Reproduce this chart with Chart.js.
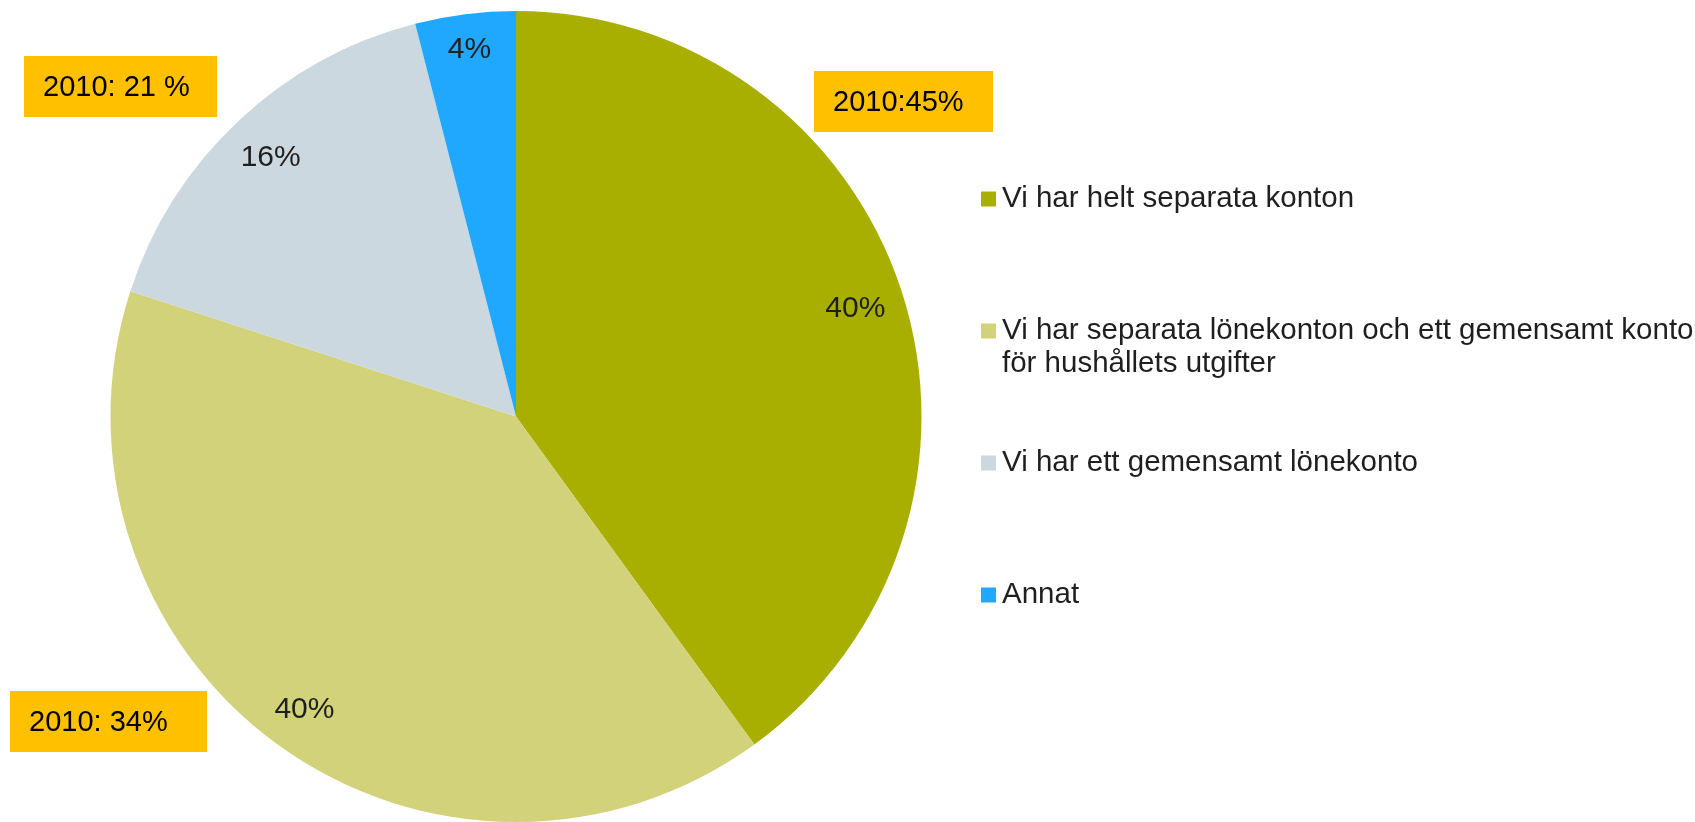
<!DOCTYPE html>
<html>
<head>
<meta charset="utf-8">
<script src="https://cdn.jsdelivr.net/npm/chart.js@4.4.1/dist/chart.umd.min.js"></script>
<style>
  html, body { margin: 0; padding: 0; background: #fff; }
  canvas { display: block; }
</style>
</head>
<body>
<canvas id="chart" width="1695" height="822"></canvas>
<script>
// categories (the second one is wrapped on two lines like in the original)
const categories = [
  'Vi har helt separata konton',
  ['Vi har separata lönekonton och ett gemensamt konto', 'för hushållets utgifter'],
  'Vi har ett gemensamt lönekonto',
  'Annat'
];
const shares = [40, 40, 16, 4];
const colors = ['#a9af00', '#d1d279', '#ccd8df', '#20a8ff'];
// comparison figures from 2010, one per slice (none for "Annat")
const notes2010 = ['2010:45%', '2010: 34%', '2010: 21 %', null];

const FONT = '"Liberation Sans", Arial, sans-serif';

// data labels placed "inside end": the text box just fits inside the slice edge
const sliceLabels = {
  id: 'sliceLabels',
  afterDatasetsDraw(chart) {
    const ctx = chart.ctx;
    const meta = chart.getDatasetMeta(0);
    ctx.save();
    ctx.font = '30px ' + FONT;
    ctx.fillStyle = '#1f1f1f';
    ctx.textAlign = 'center';
    ctx.textBaseline = 'middle';
    meta.data.forEach((arc, i) => {
      const p = arc.getProps(['x', 'y', 'startAngle', 'endAngle', 'outerRadius'], true);
      const mid = (p.startAngle + p.endAngle) / 2;
      const text = chart.data.datasets[0].data[i] + '%';
      const hw = ctx.measureText(text).width / 2;
      const hh = 15;
      const limit = p.outerRadius - 15.5;
      const cx = Math.cos(mid), cy = Math.sin(mid);
      let lo = 0, hi = p.outerRadius;
      for (let k = 0; k < 40; k++) {
        const r = (lo + hi) / 2;
        const ox = r * cx, oy = r * cy;
        let far = 0;
        [[-hw, -hh], [hw, -hh], [-hw, hh], [hw, hh]].forEach(([a, b]) => {
          far = Math.max(far, Math.hypot(ox + a, oy + b));
        });
        if (far > limit) hi = r; else lo = r;
      }
      ctx.fillText(text, p.x + lo * cx, p.y + lo * cy + 2);
    });
    ctx.restore();
  }
};

// orange boxes with the 2010 figures
const noteBoxes = [
  { x: 814, y: 71, w: 179, h: 61 },
  { x: 10, y: 691, w: 197, h: 61 },
  { x: 24, y: 56, w: 193, h: 61 }
];
const notes = {
  id: 'notes',
  afterDraw(chart) {
    const ctx = chart.ctx;
    ctx.save();
    ctx.font = '29px ' + FONT;
    ctx.textBaseline = 'middle';
    ctx.textAlign = 'left';
    notes2010.forEach((t, i) => {
      if (!t || !noteBoxes[i]) return;
      const b = noteBoxes[i];
      ctx.fillStyle = '#ffc000';
      ctx.fillRect(b.x, b.y, b.w, b.h);
      ctx.fillStyle = '#000';
      ctx.fillText(t, b.x + 19, b.y + b.h / 2 + 1);
    });
    ctx.restore();
  }
};

// legend on the right, evenly spaced entries
const sideLegend = {
  id: 'sideLegend',
  afterDraw(chart) {
    const ctx = chart.ctx;
    const colors = chart.data.datasets[0].backgroundColor;
    const x0 = 981, box = 15, textX = 1002, top = 199, step = 132, lineH = 33;
    ctx.save();
    ctx.font = '29.5px ' + FONT;
    ctx.textBaseline = 'middle';
    ctx.textAlign = 'left';
    chart.data.labels.forEach((label, i) => {
      const y = top + i * step;
      ctx.fillStyle = colors[i];
      ctx.fillRect(x0, y - box / 2, box, box);
      ctx.fillStyle = '#1f1f1f';
      const lines = Array.isArray(label) ? label : [label];
      lines.forEach((ln, j) => ctx.fillText(ln, textX, y + j * lineH));
    });
    ctx.restore();
  }
};

new Chart(document.getElementById('chart').getContext('2d'), {
  type: 'pie',
  data: {
    labels: categories,
    datasets: [{
      data: shares,
      backgroundColor: colors,
      borderWidth: 0
    }]
  },
  options: {
    responsive: false,
    animation: false,
    layout: { padding: { left: 109, right: 772, top: 11, bottom: -3 } },
    plugins: {
      legend: { display: false },
      tooltip: { enabled: false }
    }
  },
  plugins: [sliceLabels, notes, sideLegend]
});
</script>
</body>
</html>
